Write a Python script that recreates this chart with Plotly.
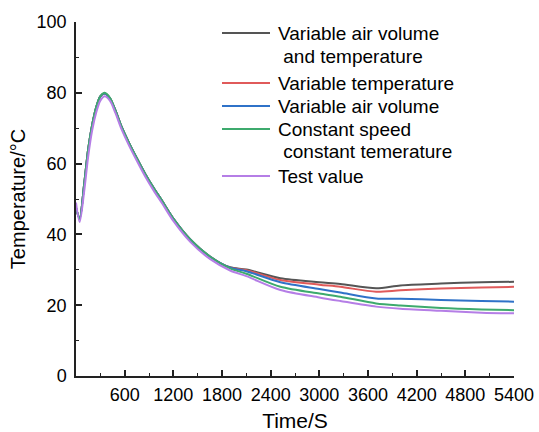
import plotly.graph_objects as go

# ---- data ----
time_s = [0, 45, 100, 150, 200, 250, 300, 354, 420, 486, 560, 650, 750, 855, 960,
          1061, 1200, 1409, 1655, 1900, 2100, 2520, 3000, 3258, 3700, 4000, 4500, 5000, 5400]

early_common = [47.5, 44.5, 54, 64, 71, 76, 79, 79.8, 78.4, 75, 70.5, 66, 61.5, 57, 53,
                49.5, 44.5, 38.6, 33.7]

var_air_and_temp = early_common + [30.7, 30.1, 27.6, 26.5, 26.0, 24.8, 25.6, 26.1, 26.5, 26.6]
var_temp         = early_common + [30.6, 29.9, 27.1, 25.8, 25.2, 23.8, 24.2, 24.7, 25.0, 25.2]
var_air          = early_common + [30.6, 29.6, 26.5, 24.6, 23.6, 21.9, 21.8, 21.5, 21.2, 21.0]
constant         = [47.5, 44.5, 54, 64, 71, 76, 79, 80, 78.5, 75, 70.5, 66, 61.5, 57, 53,
                    49.5, 44.5, 38.6, 33.7, 30.4, 28.9, 25.2, 23.3, 22.4, 20.5, 19.9, 19.2, 18.8, 18.6]
test_value       = [49, 43.5, 52, 62, 69.5, 74.5, 77.8, 79, 77.7, 74.3, 69.8, 65.3, 60.8, 56.3, 52.3,
                    48.8, 43.8, 37.9, 33.0, 29.8, 28.2, 24.3, 22.2, 21.2, 19.6, 19.0, 18.4, 17.9, 17.7]

series_names = [["Variable air volume", "\u00a0and temperature"],
                ["Variable temperature"],
                ["Variable air volume"],
                ["Constant speed", "\u00a0constant temerature"],
                ["Test value"]]
series_values = [var_air_and_temp, var_temp, var_air, constant, test_value]
series_colors = ["#555555", "#e05a5a", "#2f72c8", "#3daa6d", "#b57ee6"]

x_tick_vals = [600, 1200, 1800, 2400, 3000, 3600, 4200, 4800, 5400]
y_tick_vals = [0, 20, 40, 60, 80, 100]

FONT = "Liberation Sans, Arial, Helvetica, sans-serif"

W, H = 539, 432
ML, MR, MT, MB = 76, 25, 22, 56
PW, PH = W - ML - MR, H - MT - MB


def px_x(px):
    return (px - ML) / PW


def px_y(py):
    return (H - MB - py) / PH


fig = go.Figure()
for names, vals, col in zip(series_names, series_values, series_colors):
    fig.add_trace(go.Scatter(x=time_s, y=vals, mode="lines", name=" ".join(names),
                             showlegend=False,
                             line=dict(color=col, width=2, shape="spline", smoothing=0.8)))

# manual legend (layout only)
legend_rows = [33, 56, 83, 106, 129, 152, 176]
row = 0
annotations, shapes = [], []
for names, col in zip(series_names, series_colors):
    shapes.append(dict(type="line", xref="paper", yref="paper",
                       x0=px_x(222), x1=px_x(270),
                       y0=px_y(legend_rows[row]), y1=px_y(legend_rows[row]),
                       line=dict(color=col, width=2)))
    for nm in names:
        annotations.append(dict(text=nm, xref="paper", yref="paper",
                                x=px_x(276), y=px_y(legend_rows[row]),
                                xanchor="left", yanchor="middle", showarrow=False,
                                font=dict(size=19, family=FONT, color="black")))
        row += 1

fig.update_layout(
    width=W, height=H,
    margin=dict(l=ML, r=MR, t=MT, b=MB, autoexpand=False),
    paper_bgcolor="white", plot_bgcolor="white",
    font=dict(family=FONT, color="black", size=18),
    showlegend=False,
    annotations=annotations, shapes=shapes,
)
fig.update_xaxes(
    range=[0, 5400], tickvals=x_tick_vals, ticktext=[str(v) for v in x_tick_vals],
    showgrid=False, zeroline=False, showline=True, linecolor="#222", linewidth=1.5,
    ticks="inside", ticklen=6, tickwidth=1.5, tickcolor="#222",
    minor=dict(dtick=300, tick0=0, ticks="inside", ticklen=3, tickwidth=1.2, tickcolor="#222"),
    tickfont=dict(size=18), ticklabelstandoff=2, automargin=False,
    title=dict(text="Time/S", font=dict(size=21), standoff=10),
)
fig.update_yaxes(
    range=[0, 100], tickvals=y_tick_vals,
    showgrid=False, zeroline=False, showline=True, linecolor="#222", linewidth=1.5,
    ticks="inside", ticklen=6, tickwidth=1.5, tickcolor="#222",
    minor=dict(dtick=10, tick0=0, ticks="inside", ticklen=3, tickwidth=1.2, tickcolor="#222"),
    tickfont=dict(size=18), ticklabelstandoff=4, automargin=False,
    title=dict(text="Temperature/°C", font=dict(size=20), standoff=6),
)

fig.write_html("out.html", config={"displayModeBar": False},
               post_script="document.body.style.margin='0';document.body.style.overflow='hidden';")
